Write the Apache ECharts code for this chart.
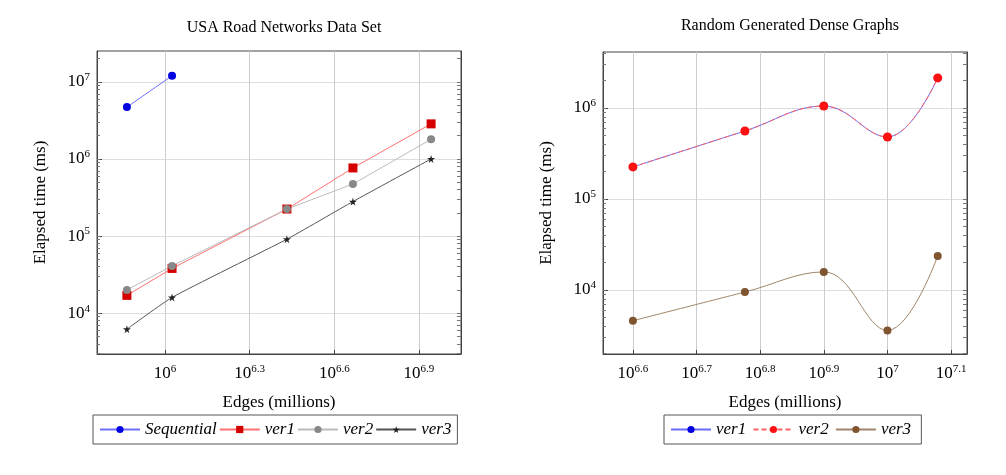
<!DOCTYPE html>
<html>
<head>
<meta charset="utf-8">
<script src="https://cdn.jsdelivr.net/npm/echarts@6/dist/echarts.min.js"></script>
<style>html,body{margin:0;padding:0;background:#fff}#main{width:1006px;height:475px}</style>
</head>
<body>
<div id="main"></div>
<script>
// 左图：USA Road Networks（x 为边数的 log10）
var roadEdgesLog = [5.865, 6.025, 6.432, 6.666, 6.943];
var roadSequential = [4.7e6, 1.2e7];
var roadVer1 = [17000, 38000, 224000, 764000, 2850000];
var roadVer2 = [20000, 41000, 224000, 473000, 1800000];
var roadVer3 = [6200, 16000, 91000, 280000, 1000000];
var roadXTicks = [6, 6.3, 6.6, 6.9];

// 右图：Random Generated Dense Graphs
var denseEdgesLog = [6.6, 6.776, 6.9, 7.0, 7.079];
var denseVer1 = [225000, 559000, 1050000, 480000, 2140000];
var denseVer2 = [225000, 559000, 1050000, 480000, 2140000];
var denseVer3 = [4600, 9500, 15800, 3600, 23700];
var denseXTicks = [6.6, 6.7, 6.8, 6.9, 7.0, 7.1];

var FONT = 'Liberation Serif';
var STAR = 'path://M50,0 L61,35 L98,35 L68,57 L79,91 L50,70 L21,91 L32,57 L2,35 L39,35 Z';

function pts(xs, ys) {
	return ys.map(function(v, i) { return [xs[i], Math.log10(v)]; });
}
function majors(lo, hi) {
	var r = [];
	for (var n = Math.ceil(lo); n <= hi; n++) r.push(n);
	return r;
}
function minors(lo, hi) {
	var r = [];
	for (var n = Math.floor(lo); n <= hi; n++) {
		for (var k = 1; k < 10; k++) {
			var v = n + Math.log10(k);
			if (v >= lo && v <= hi) r.push(v);
		}
	}
	return r;
}
function powLabel(v) {
	var e = Math.round(v * 10) / 10;
	return '{b|10}{s|' + e + '}';
}
var rich = { b: { fontFamily: FONT, fontSize: 17, color: '#000' }, s: { fontFamily: FONT, fontSize: 11, color: '#000', verticalAlign: 'top', padding: [0, 0, 9, 0] } };

function xAxes(gi, min, max, ticks) {
	return {
		type: 'value', gridIndex: gi, min: min, max: max,
		name: 'Edges (millions)', nameLocation: 'middle', nameGap: 40,
		nameTextStyle: { fontFamily: FONT, fontSize: 17, color: '#000' },
		axisLine: { lineStyle: { color: '#444' } },
		axisTick: { customValues: ticks, inside: true, length: 4, lineStyle: { color: '#444' } },
		axisLabel: { customValues: ticks, formatter: powLabel, rich: rich, margin: 10 },
		splitLine: { show: true, lineStyle: { color: '#ccc' } }
	};
}
function yAxes(gi, min, max) {
	var base = { type: 'value', gridIndex: gi, min: min, max: max };
	return [
		Object.assign({}, base, {
			name: 'Elapsed time (ms)', nameLocation: 'middle', nameGap: 48,
			nameTextStyle: { fontFamily: FONT, fontSize: 17, color: '#000' },
			axisLine: { lineStyle: { color: '#444' } },
			axisTick: { customValues: majors(min, max), inside: true, length: 5, lineStyle: { color: '#444' } },
			axisLabel: { customValues: majors(min, max), formatter: powLabel, rich: rich, margin: 7 },
			splitLine: { show: true, lineStyle: { color: '#ddd' } }
		}),
		Object.assign({}, base, {
			position: 'left',
			axisLine: { show: false },
			axisTick: { show: true, customValues: minors(min, max), inside: true, length: 3, lineStyle: { color: '#777' } },
			axisLabel: { show: false }, splitLine: { show: false }
		}),
		Object.assign({}, base, {
			position: 'right',
			axisLine: { show: true, lineStyle: { color: '#444' } },
			axisTick: { customValues: minors(min, max), inside: true, length: 4, lineStyle: { color: '#777' } },
			axisLabel: { show: false }, splitLine: { show: false }
		})
	];
}
function line(name, gi, yi, data, symbol, size, mcol, lcol, smooth, dashed) {
	return {
		name: name, type: 'line', xAxisIndex: gi, yAxisIndex: yi, data: data,
		symbol: symbol, symbolSize: size, smooth: smooth,
		itemStyle: { color: mcol }, lineStyle: { color: lcol, width: 1, type: dashed ? [5, 3] : 'solid' },
		emphasis: { disabled: true }
	};
}
var legendBase = {
	orient: 'horizontal', bottom: 31, itemGap: 2, itemWidth: 40, itemHeight: 9,
	borderColor: '#555', borderWidth: 1, padding: [6, 6],
	textStyle: { fontFamily: FONT, fontStyle: 'italic', fontSize: 17, color: '#000' }
};
var titleStyle = { fontFamily: FONT, fontSize: 16, fontWeight: 'normal', color: '#000' };

var myChart = echarts.init(document.getElementById('main'));
var option = {
	animation: false,
	title: [
		{ text: 'USA Road Networks Data Set', left: 279, top: 15, textAlign: 'center', textStyle: titleStyle },
		{ text: 'Random Generated Dense Graphs', left: 785, top: 13, textAlign: 'center', textStyle: titleStyle }
	],
	grid: [
		{ left: 97, top: 51, width: 364, height: 303, show: true, borderColor: '#444', borderWidth: 1 },
		{ left: 603, top: 52, width: 364, height: 302, show: true, borderColor: '#444', borderWidth: 1 }
	],
	legend: [
		Object.assign({}, legendBase, { left: 93, data: ['Sequential', 'ver1', 'ver2', 'ver3'] }),
		Object.assign({}, legendBase, { left: 664, data: ['ver1 ', 'ver2 ', 'ver3 '] })
	],
	xAxis: [xAxes(0, 5.759, 7.049, roadXTicks), xAxes(1, 6.553, 7.125, denseXTicks)],
	yAxis: yAxes(0, 3.47, 7.40).concat(yAxes(1, 3.297, 6.615)),
	series: [
		line('Sequential', 0, 0, pts(roadEdgesLog, roadSequential), 'circle', 8, '#0000e0', '#7070ff', false),
		line('ver1', 0, 0, pts(roadEdgesLog, roadVer1), 'rect', 9, '#d40000', '#ff7070', false),
		line('ver2', 0, 0, pts(roadEdgesLog, roadVer2), 'circle', 8, '#888', '#bbb', false),
		line('ver3', 0, 0, pts(roadEdgesLog, roadVer3), STAR, 8, '#222', '#555', 0.15),
		line('ver1 ', 1, 3, pts(denseEdgesLog, denseVer1), 'circle', 8, '#0000e0', '#6a6aff', 0.4),
		line('ver2 ', 1, 3, pts(denseEdgesLog, denseVer2), 'circle', 9, '#ff1010', '#ff6060', 0.4, true),
		line('ver3 ', 1, 3, pts(denseEdgesLog, denseVer3), 'circle', 8, '#7f5530', '#a08468', 0.4)
	]
};
myChart.setOption(option);
</script>
</body>
</html>
